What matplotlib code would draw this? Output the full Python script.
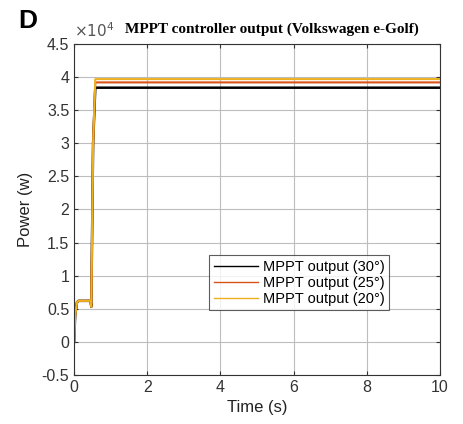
import matplotlib
matplotlib.use("Agg")
import matplotlib.pyplot as plt
from matplotlib.ticker import FuncFormatter

# ============================================================
# Data
# ============================================================

time_s = [0, 0.03, 0.08, 0.12, 0.45, 0.47, 0.52, 0.58, 10]

power_30 = [0, 4000, 6000, 6200, 6200, 5300, 30000, 38400, 38400]
power_25 = [0, 4000, 6000, 6200, 6200, 5300, 30000, 39200, 39200]
power_20 = [0, 4000, 6000, 6200, 6200, 5300, 30000, 39700, 39700]

labels = ["MPPT output (30°)", "MPPT output (25°)", "MPPT output (20°)"]
colors = ["#000000", "#D95319", "#EDB120"]

x_ticks = [0, 2, 4, 6, 8, 10]
y_ticks = [-5000, 0, 5000, 10000, 15000, 20000, 25000, 30000, 35000, 40000, 45000]

# ============================================================
# Plot
# ============================================================

plt.rcParams['font.family'] = ['Liberation Sans', 'DejaVu Sans']
plt.rcParams['axes.unicode_minus'] = False

fig = plt.figure(figsize=(4.63, 4.24), dpi=100)
ax = fig.add_axes([0.16, 0.1156, 0.79, 0.7806])

ax.plot(time_s, power_30, color=colors[0], linewidth=1.8, label=labels[0])
ax.plot(time_s, power_25, color=colors[1], linewidth=1.5, label=labels[1])
ax.plot(time_s, power_20, color=colors[2], linewidth=1.5, label=labels[2])

ax.set_xlim(0, 10)
ax.set_ylim(-5000, 45000)
ax.set_xticks(x_ticks)
ax.set_yticks(y_ticks)
ax.yaxis.set_major_formatter(FuncFormatter(lambda v, p: f"{v / 1e4:g}"))

ax.text(0.0, 1.012, r"$\times10^4$", transform=ax.transAxes, fontsize=11,
        color='#555555', ha='left', va='bottom')

ax.grid(True, color='#bdbdbd', linewidth=0.8)
ax.tick_params(direction='in', labelsize=11.5, colors='#333333', length=3,
               top=True, right=True)
for s in ax.spines.values():
    s.set_color('#333333')

ax.set_xlabel("Time (s)", fontsize=12, color='#222222')
ax.set_ylabel("Power (w)", fontsize=12, color='#222222', labelpad=6)

ax.set_title("MPPT controller output (Volkswagen e-Golf)",
             fontsize=11, fontweight='bold', family='Liberation Serif', pad=8,
             x=0.54)

fig.text(0.04, 0.935, "D", fontsize=19, fontweight='bold')

leg = ax.legend(loc='lower left', bbox_to_anchor=(0.37, 0.195), fontsize=10.5,
                frameon=True, fancybox=False, edgecolor='#333333',
                borderpad=0.3, labelspacing=0.15, handlelength=3.0,
                handletextpad=0.4, borderaxespad=0)
leg.get_frame().set_linewidth(0.8)
for h in leg.get_lines():
    h.set_linewidth(1.0)

plt.savefig("out.png", dpi=100)
